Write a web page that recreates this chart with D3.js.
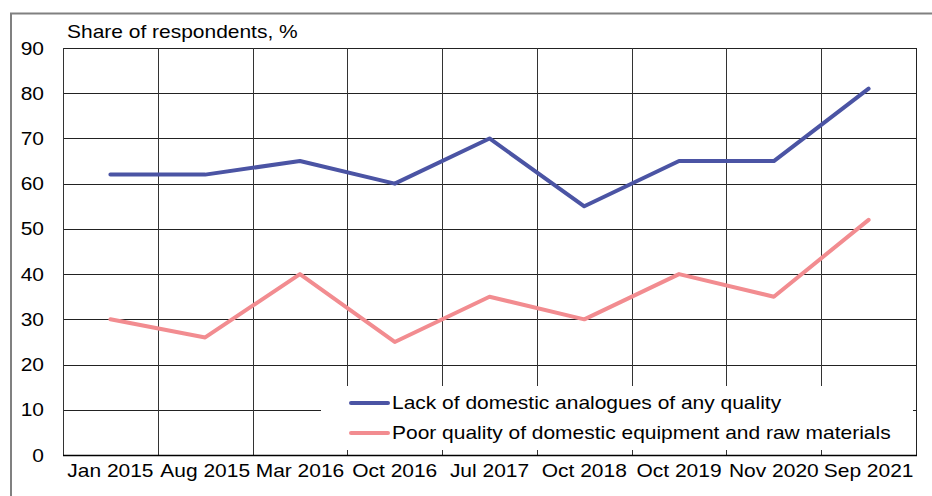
<!DOCTYPE html>
<html><head><meta charset="utf-8">
<script src="https://cdn.jsdelivr.net/npm/d3@7"></script>
<style>body{margin:0;background:#fff}svg{display:block}text{font-family:"Liberation Sans",Arial,sans-serif;fill:#000}</style>
</head><body><svg id="c" width="932" height="496"></svg>
<script>
const categories = ["Jan 2015","Aug 2015","Mar 2016","Oct 2016","Jul 2017","Oct 2018","Oct 2019","Nov 2020","Sep 2021"];
const lackAnalogues = [62,62,65,60,70,55,65,65,81];
const poorQuality = [30,26,40,25,35,30,40,35,52];
const yTicks = [0,10,20,30,40,50,60,70,80,90];
const seriesNames = ["Lack of domestic analogues of any quality","Poor quality of domestic equipment and raw materials"];
const colors = ["#4b54a4","#f28c90"];

const svg = d3.select("#c");
const L=63,R=916,T=48,B=455;
const FS=18, SX=1.165;
const x = d3.scaleBand().domain(categories).range([L,R]);
const y = d3.scaleLinear().domain([0,90]).range([B,T]);

function txt(px,py,s,anchor){
  return svg.append("text").attr("transform",`translate(${px},${py}) scale(${SX},1)`)
    .attr("text-anchor",anchor||"start").attr("font-size",FS).text(s);
}

// outer frame
svg.append("path").attr("d","M11,496 L11,13.5 L932,13.5").attr("fill","none").attr("stroke","#808080").attr("stroke-width",2);

// gridlines
const g = svg.append("g");
yTicks.forEach(t=>g.append("line").attr("x1",L).attr("x2",R).attr("y1",Math.round(y(t))+0.5).attr("y2",Math.round(y(t))+0.5).attr("stroke","#222").attr("stroke-width",1));
categories.forEach(c=>g.append("line").attr("x1",Math.round(x(c))+0.5).attr("x2",Math.round(x(c))+0.5).attr("y1",T).attr("y2",B).attr("stroke","#333").attr("stroke-width",1));
g.append("line").attr("x1",R+0.5).attr("x2",R+0.5).attr("y1",T).attr("y2",B).attr("stroke","#222");
g.append("line").attr("x1",L).attr("x2",R+1).attr("y1",B+0.5).attr("y2",B+0.5).attr("stroke","#000").attr("stroke-width",1.5);

// y labels
yTicks.forEach(t=>txt(44,y(t)+6.5,t,"end"));
// x labels
categories.forEach(c=>txt(x(c)+x.bandwidth()/2,477,c,"middle"));
// title
txt(67,38,"Share of respondents, %");

// legend background
svg.append("rect").attr("x",321).attr("y",386).attr("width",592).attr("height",64).attr("fill","#fff");

// lines
const line = d3.line().x((d,i)=>x(categories[i])+x.bandwidth()/2).y(d=>y(d)).curve(d3.curveLinear);
[lackAnalogues,poorQuality].forEach((s,i)=>svg.append("path").attr("d",line(s)).attr("fill","none").attr("stroke",colors[i]).attr("stroke-width",4).attr("stroke-linejoin","round").attr("stroke-linecap","round"));

// legend
seriesNames.forEach((n,i)=>{
  const ly = 403 + i*30;
  svg.append("line").attr("x1",351).attr("x2",388).attr("y1",ly).attr("y2",ly).attr("stroke",colors[i]).attr("stroke-width",4).attr("stroke-linecap","round");
  txt(392,ly+5.5,n);
});
</script></body></html>
